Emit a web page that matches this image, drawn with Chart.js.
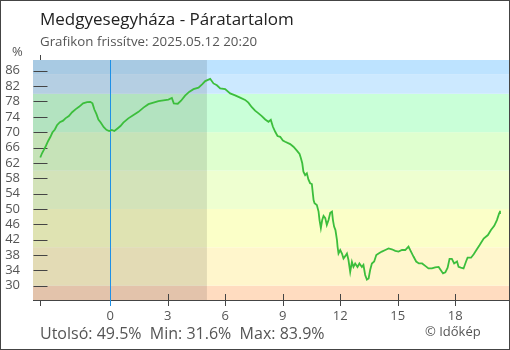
<!DOCTYPE html>
<html>
<head>
<meta charset="utf-8">
<script src="https://cdn.jsdelivr.net/npm/chart.js@4/dist/chart.umd.min.js"></script>
<style>
  html, body { margin: 0; padding: 0; background: #fff; }
  canvas { display: block; }
</style>
</head>
<body>
<canvas id="chart" width="510" height="350"></canvas>
<script>
var stationName = 'Medgyesegyháza - Páratartalom';
var updatedAt = 'Grafikon frissítve: 2025.05.12 20:20';

// hours relative to midnight, humidity in %
var hours = [
  -3.64, -3.55, -3.44, -3.35, -3.23, -3.11, -3.01, -2.88, -2.77, -2.62,
  -2.45, -2.33, -2.15, -1.98, -1.79, -1.62, -1.41, -1.20, -1.03, -0.92,
  -0.82, -0.71, -0.61, -0.49, -0.33, -0.19, -0.05, 0.09, 0.22, 0.37,
  0.54, 0.69, 0.95, 1.22, 1.48, 1.74, 2.00, 2.26, 2.52, 2.78,
  3.04, 3.22, 3.32, 3.53, 3.70, 3.91, 4.12, 4.35, 4.61, 4.81,
  4.96, 5.22, 5.39, 5.57, 5.74, 6.00, 6.26, 6.52, 6.78, 7.04,
  7.21, 7.39, 7.56, 7.74, 7.91, 8.09, 8.26, 8.38, 8.49, 8.61,
  8.73, 8.87, 9.01, 9.13, 9.39, 9.56, 9.74, 9.88, 9.95, 10.02,
  10.08, 10.17, 10.26, 10.34, 10.43, 10.52, 10.57, 10.61, 10.66, 10.78,
  10.87, 10.92, 10.99, 11.06, 11.13, 11.22, 11.30, 11.39, 11.48, 11.57,
  11.62, 11.68, 11.75, 11.83, 11.86, 11.91, 12.00, 12.09, 12.17, 12.26,
  12.35, 12.43, 12.52, 12.61, 12.69, 12.78, 12.90, 13.00, 13.13, 13.21,
  13.30, 13.39, 13.48, 13.56, 13.65, 13.77, 13.88, 14.00, 14.17, 14.35,
  14.52, 14.69, 14.87, 15.04, 15.22, 15.39, 15.56, 15.69, 15.82, 15.96,
  16.10, 16.27, 16.45, 16.60, 16.78, 16.95, 17.13, 17.36, 17.48, 17.60,
  17.70, 17.82, 17.94, 18.09, 18.17, 18.29, 18.43, 18.56, 18.64, 18.82,
  18.96, 19.10, 19.27, 19.48, 19.70, 19.86, 20.03, 20.17, 20.29, 20.33
];
var humidity = [
  63.4, 64.5, 65.5, 66.4, 67.7, 68.8, 69.9, 70.7, 71.8, 72.6,
  73.0, 73.6, 74.2, 75.2, 76.0, 76.6, 77.5, 77.8, 77.9, 77.5,
  75.9, 74.7, 73.3, 72.5, 71.3, 70.6, 70.3, 70.6, 70.3, 70.9,
  71.6, 72.5, 73.6, 74.5, 75.3, 76.4, 77.3, 77.7, 78.1, 78.3,
  78.5, 78.9, 77.5, 77.4, 78.2, 79.5, 80.5, 81.2, 81.6, 82.5,
  83.3, 83.9, 82.7, 82.2, 81.4, 81.2, 80.1, 79.6, 79.0, 78.4,
  77.7, 76.5, 75.6, 74.9, 74.2, 73.3, 72.7, 73.2, 71.4, 70.1,
  69.0, 68.8, 67.8, 67.5, 66.9, 66.2, 65.2, 64.3, 63.2, 61.9,
  59.7, 58.8, 59.3, 57.7, 56.7, 56.5, 54.1, 52.3, 51.5, 51.0,
  49.3, 47.1, 45.0, 47.1, 48.2, 47.6, 45.8, 47.1, 49.0, 49.3,
  47.1, 45.4, 44.5, 41.9, 40.2, 38.4, 39.3, 38.4, 37.1, 37.7,
  38.4, 36.7, 33.6, 36.2, 34.9, 35.8, 34.9, 35.8, 34.9, 35.4,
  32.8, 31.6, 31.9, 34.1, 35.8, 36.3, 38.0, 38.4, 38.9, 39.3,
  39.7, 39.5, 39.1, 38.9, 39.3, 39.3, 40.2, 38.9, 37.6, 36.3,
  35.8, 35.8, 35.1, 34.5, 34.5, 34.8, 34.9, 33.2, 33.5, 34.7,
  37.0, 37.0, 35.8, 36.3, 34.9, 34.7, 34.5, 36.3, 37.3, 37.3,
  38.2, 39.3, 40.6, 42.3, 43.2, 44.5, 45.6, 47.1, 48.9, 49.5
];

var xTicks = [0, 3, 6, 9, 12, 15, 18];
var yTicks = [30, 34, 38, 42, 46, 50, 54, 58, 62, 66, 70, 74, 78, 82, 86];
var bandLimits = [30, 40, 50, 60, 70, 80, 85];
var bandColors = ['#ffdcc0', '#fff6cc', '#fbffc8', '#eeffd0', '#dfffcf', '#c9ffd8', '#cce9ff', '#bde3ff'];
var sunrise = 5.05;

var lastValue = humidity[humidity.length - 1];
var minValue = Math.min.apply(null, humidity);
var maxValue = Math.max.apply(null, humidity);

var points = hours.map(function (h, i) {
  return { x: h, y: humidity[i] };
});

var font = '"Open Sans", "Noto Sans", sans-serif';

var backgroundPlugin = {
  id: 'bands',
  beforeDraw: function (chart) {
    var ctx = chart.ctx, area = chart.chartArea;
    var x = chart.scales.x, y = chart.scales.y;
    ctx.save();
    ctx.fillStyle = '#fff';
    ctx.fillRect(0, 0, chart.width, chart.height);
    var edges = [y.min].concat(bandLimits, [y.max]);
    for (var i = 0; i < edges.length - 1; i++) {
      var top = y.getPixelForValue(edges[i + 1]);
      var bottom = y.getPixelForValue(edges[i]);
      ctx.fillStyle = bandColors[i];
      ctx.fillRect(area.left, top, area.right - area.left, bottom - top);
    }
    // night shading until sunrise
    var nx = x.getPixelForValue(sunrise);
    ctx.fillStyle = 'rgba(0, 0, 0, 0.11)';
    ctx.fillRect(area.left, area.top, nx - area.left, area.bottom - area.top);
    ctx.restore();
  }
};

var marksPlugin = {
  id: 'marks',
  beforeDatasetsDraw: function (chart) {
    var ctx = chart.ctx, area = chart.chartArea;
    var x = chart.scales.x, y = chart.scales.y;
    var ax = Math.round(x.getPixelForValue(hours[0])) + 0.5;
    ctx.save();
    ctx.strokeStyle = '#444';
    ctx.lineWidth = 1;
    ctx.beginPath();
    yTicks.forEach(function (v) {
      var py = Math.round(y.getPixelForValue(v)) + 0.5;
      ctx.moveTo(ax - 7, py);
      ctx.lineTo(ax + 7, py);
    });
    ctx.moveTo(ax, area.top - 5);
    ctx.lineTo(ax, area.top);
    ctx.moveTo(ax, area.bottom);
    ctx.lineTo(ax, area.bottom + 6);
    xTicks.forEach(function (t) {
      if (t === 0) return;
      var px = Math.round(x.getPixelForValue(t)) + 0.5;
      ctx.moveTo(px, area.bottom - 6);
      ctx.lineTo(px, area.bottom + 6);
    });
    ctx.stroke();

    var zx = Math.round(x.getPixelForValue(0)) + 0.5;
    ctx.strokeStyle = '#1e90e6';
    ctx.beginPath();
    ctx.moveTo(zx, area.top);
    ctx.lineTo(zx, area.bottom + 6);
    ctx.stroke();
    ctx.restore();
  }
};

var textPlugin = {
  id: 'texts',
  afterDraw: function (chart) {
    var ctx = chart.ctx;
    ctx.save();
    ctx.textBaseline = 'alphabetic';
    ctx.textAlign = 'left';
    ctx.fillStyle = '#222';
    ctx.font = '17px ' + font;
    ctx.fillText(stationName, 40, 25);
    ctx.fillStyle = '#555';
    ctx.font = '13.3px ' + font;
    ctx.fillText(updatedAt, 40, 46);
    ctx.font = '13px ' + font;
    ctx.fillText('%', 12, 56);
    ctx.font = '16px ' + font;
    ctx.fillText('Utolsó: ' + lastValue.toFixed(1) + '%  Min: ' + minValue.toFixed(1) +
      '%  Max: ' + maxValue.toFixed(1) + '%', 40, 339);
    ctx.font = '13px ' + font;
    ctx.fillText('© Időkép', 425, 336);

    ctx.strokeStyle = '#444';
    ctx.lineWidth = 1;
    ctx.strokeRect(0.5, 0.5, chart.width - 1, chart.height - 1);
    ctx.restore();
  }
};

new Chart(document.getElementById('chart'), {
  type: 'line',
  data: {
    datasets: [{
      data: points,
      borderColor: '#3cbe3c',
      borderWidth: 1.8,
      pointRadius: 0,
      tension: 0,
      fill: false
    }]
  },
  options: {
    responsive: false,
    animation: false,
    devicePixelRatio: 1,
    layout: { padding: { left: 0, top: 60, right: 1, bottom: 0 } },
    plugins: { legend: { display: false }, tooltip: { enabled: false } },
    scales: {
      x: {
        type: 'linear',
        min: -4.02,
        max: 20.8,
        afterBuildTicks: function (scale) {
          scale.ticks = xTicks.map(function (v) { return { value: v }; });
        },
        afterFit: function (scale) { scale.height = 50; },
        grid: { display: false, drawTicks: false },
        border: { display: true, color: '#444', width: 1 },
        ticks: { padding: 8, autoSkip: false, color: '#555', font: { family: font, size: 13 }, maxRotation: 0 }
      },
      y: {
        min: 26.28,
        max: 88.8,
        afterBuildTicks: function (scale) {
          scale.ticks = yTicks.map(function (v) { return { value: v }; });
        },
        afterFit: function (scale) { scale.width = 33; },
        grid: { display: false, drawTicks: false },
        border: { display: false },
        ticks: { padding: 13, autoSkip: false, color: '#555', font: { family: font, size: 13 } }
      }
    }
  },
  plugins: [backgroundPlugin, marksPlugin, textPlugin]
});
</script>
</body>
</html>
